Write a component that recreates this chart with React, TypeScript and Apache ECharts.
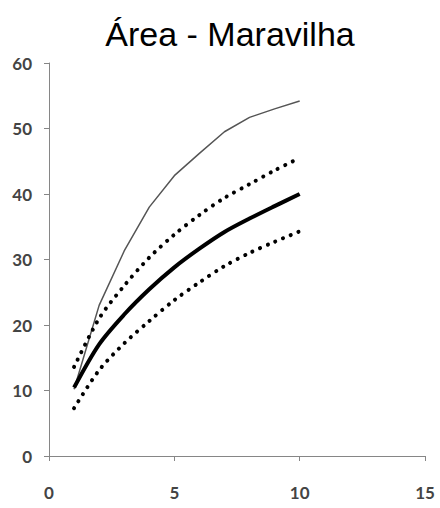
import React, { useEffect, useRef } from "react";
import * as echarts from "echarts";

// Number of samples (x) and the rarefaction curves for the area
const samples = [1, 2, 3, 4, 5, 6, 7, 8, 9, 10];
const observed = [10.2, 23.0, 31.3, 38.0, 42.8, 46.2, 49.5, 51.7, 53.0, 54.2];
const upperBound = [13.6, 21.0, 26.0, 30.3, 33.8, 36.8, 39.4, 41.5, 43.6, 45.5];
const mean = [10.45, 17.05, 21.6, 25.45, 28.8, 31.65, 34.2, 36.25, 38.15, 40.0];
const lowerBound = [7.3, 13.1, 17.2, 20.6, 23.8, 26.5, 29.0, 31.0, 32.7, 34.3];

const xTicks = { min: 0, max: 15, interval: 5 };
const yTicks = { min: 0, max: 60, interval: 10 };

const pairs = (ys: number[]) => samples.map((x, i) => [x, ys[i]]);

const axisGray = "#868686";
const labelStyle = {
  color: "#444",
  fontFamily: "Lato, 'Liberation Sans', sans-serif",
  fontWeight: "bold" as const,
  fontSize: 17,
};

const dotted = {
  color: "#000",
  width: 4,
  type: [0.1, 8.2],
  cap: "round" as const,
};

export default function App() {
  const ref = useRef<HTMLDivElement>(null);

  useEffect(() => {
    document.body.style.margin = "0";
    if (!ref.current) return;
    const chart = echarts.init(ref.current, undefined, { renderer: "svg" });
    chart.setOption({
      animation: false,
      backgroundColor: "#fff",
      title: {
        text: "Área - Maravilha",
        left: 225,
        top: 12,
        textAlign: "center",
        textStyle: {
          color: "#000",
          fontFamily: "'Liberation Sans', Arial, sans-serif",
          fontWeight: "normal",
          fontSize: 34,
        },
      },
      grid: { left: 49, top: 63, width: 376, height: 393, containLabel: false },
      xAxis: {
        type: "value",
        ...xTicks,
        axisLine: { show: true, lineStyle: { color: axisGray, width: 1 } },
        axisTick: { show: true, length: 5, lineStyle: { color: axisGray } },
        splitLine: { show: false },
        axisLabel: { ...labelStyle, margin: 28 },
      },
      yAxis: {
        type: "value",
        ...yTicks,
        axisLine: { show: true, lineStyle: { color: axisGray, width: 1 } },
        axisTick: { show: true, length: 5, lineStyle: { color: axisGray } },
        splitLine: { show: false },
        axisLabel: { ...labelStyle, margin: 17 },
      },
      series: [
        {
          name: "Observado",
          type: "line",
          data: pairs(observed),
          showSymbol: false,
          lineStyle: { color: "#555", width: 1.5 },
          z: 2,
        },
        {
          name: "Limite superior",
          type: "line",
          data: pairs(upperBound),
          smooth: 0.3,
          showSymbol: false,
          lineStyle: dotted,
          z: 3,
        },
        {
          name: "Média",
          type: "line",
          data: pairs(mean),
          smooth: 0.3,
          showSymbol: false,
          lineStyle: { color: "#000", width: 4 },
          z: 4,
        },
        {
          name: "Limite inferior",
          type: "line",
          data: pairs(lowerBound),
          smooth: 0.3,
          showSymbol: false,
          lineStyle: dotted,
          z: 3,
        },
      ],
    });
    return () => chart.dispose();
  }, []);

  return <div ref={ref} style={{ width: 440, height: 508 }} />;
}
